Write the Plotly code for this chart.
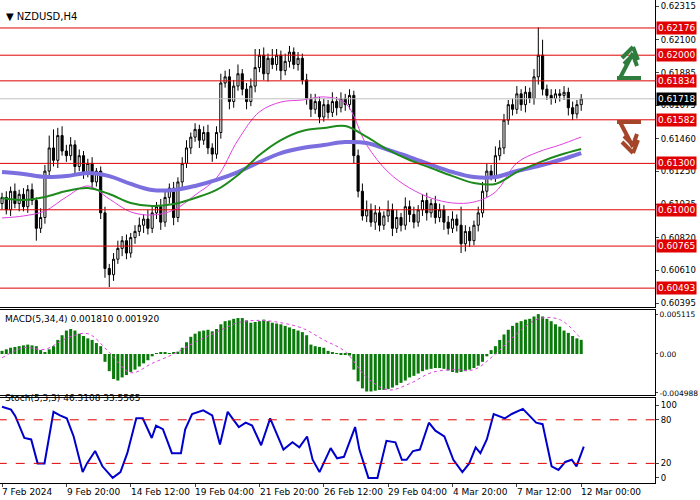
import plotly.graph_objects as go
from plotly.subplots import make_subplots

# candle closes (NZDUSD, H4)
closes = [0.6108, 0.6100, 0.6112, 0.6104, 0.6110, 0.6102, 0.6113, 0.6106, 0.6088, 0.6095,
          0.6125, 0.6140, 0.6132, 0.6148, 0.6138, 0.6135, 0.6142, 0.6128, 0.6135, 0.6124,
          0.6130, 0.6118, 0.6125, 0.6098, 0.6062, 0.6058, 0.6068, 0.6075, 0.6080, 0.6072,
          0.6082, 0.6086, 0.6090, 0.6094, 0.6088, 0.6098, 0.6102, 0.6092, 0.6108, 0.6114,
          0.6095, 0.6118, 0.6130, 0.6140, 0.6147, 0.6152, 0.6145, 0.6150, 0.6140, 0.6136,
          0.6150, 0.6182, 0.6186, 0.6170, 0.6180, 0.6188, 0.6178, 0.6170, 0.6180, 0.6192,
          0.6200, 0.6188, 0.6198, 0.6194, 0.6200, 0.6190, 0.6196, 0.6202, 0.6194, 0.6198,
          0.6184, 0.6172, 0.6165, 0.6170, 0.6160, 0.6168, 0.6163, 0.6170, 0.6166, 0.6172,
          0.6168, 0.6174, 0.6135, 0.6112, 0.6096, 0.6100, 0.6092, 0.6098, 0.6090, 0.6096,
          0.6100, 0.6088, 0.6095, 0.6090, 0.6102, 0.6097, 0.6092, 0.6100, 0.6106, 0.6098,
          0.6104, 0.6095, 0.6100, 0.6092, 0.6088, 0.6094, 0.6090, 0.6078, 0.6086, 0.6080,
          0.6090, 0.6098, 0.6112, 0.6125, 0.6122, 0.6135, 0.6140, 0.6158, 0.6168, 0.6165,
          0.6175, 0.6168, 0.6176, 0.6172, 0.6186, 0.6200, 0.6178, 0.6174, 0.6172, 0.6175,
          0.6174, 0.6176, 0.6166, 0.6162, 0.6168, 0.61718]
first_open = 0.6104
# wick lengths in pips above / below the body
up_pips = [3, 4, 3, 5, 3, 4, 3, 4, 2, 6,
           4, 8, 12, 5, 6, 4, 5, 3, 4, 3,
           3, 4, 2, 3, 4, 3, 4, 5, 3, 4,
           3, 4, 5, 3, 6, 4, 3, 5, 4, 3,
           4, 3, 4, 5, 3, 4, 3, 4, 5, 3,
           4, 6, 4, 5, 4, 6, 3, 4, 5, 12,
           4, 5, 3, 6, 4, 3, 5, 4, 3, 4,
           3, 4, 3, 5, 3, 4, 3, 6, 3, 4,
           3, 4, 3, 4, 5, 6, 4, 5, 4, 3,
           6, 4, 5, 3, 6, 4, 5, 3, 4, 5,
           3, 5, 4, 3, 4, 5, 3, 12, 4, 3,
           3, 4, 6, 5, 4, 6, 5, 4, 3, 4,
           5, 3, 4, 3, 5, 18, 10, 3, 4, 3,
           3, 4, 3, 4, 3, 3]
dn_pips = [4, 3, 4, 3, 5, 3, 4, 3, 8, 3,
           4, 3, 4, 5, 3, 4, 3, 5, 3, 4,
           3, 4, 3, 4, 6, 8, 4, 3, 5, 4,
           3, 4, 3, 5, 4, 3, 4, 5, 3, 4,
           5, 3, 4, 3, 4, 3, 5, 3, 4, 5,
           3, 4, 3, 5, 4, 3, 4, 5, 3, 4,
           3, 4, 5, 3, 4, 6, 3, 4, 3, 4,
           3, 4, 5, 3, 4, 3, 4, 3, 5, 3,
           4, 3, 5, 4, 3, 4, 3, 5, 4, 3,
           4, 5, 3, 4, 3, 5, 4, 3, 4, 5,
           3, 4, 3, 5, 4, 3, 4, 6, 5, 4,
           3, 4, 3, 4, 3, 4, 3, 4, 3, 4,
           3, 4, 5, 3, 4, 5, 4, 3, 4, 3,
           4, 3, 5, 4, 3, 4]

# moving averages sampled every 5 candles
ma_idx = list(range(0, 136, 5))
ma_blue = [0.61244, 0.61231, 0.61212, 0.61218, 0.61238, 0.61218, 0.61167, 0.61128, 0.61128, 0.61154,
           0.61193, 0.61244, 0.61309, 0.61367, 0.61400, 0.61419, 0.61438, 0.61432, 0.61387, 0.61341,
           0.61290, 0.61244, 0.61212, 0.61212, 0.61251, 0.61283, 0.61322, 0.61367]
ma_green = [0.61076, 0.61063, 0.61083, 0.61121, 0.61141, 0.61102, 0.61044, 0.61024, 0.61037, 0.61076,
            0.61128, 0.61225, 0.61354, 0.61451, 0.61510, 0.61529, 0.61542, 0.61471, 0.61387, 0.61322,
            0.61270, 0.61218, 0.61173, 0.61167, 0.61244, 0.61303, 0.61354, 0.61393]
ma_pink = [0.60947, 0.60960, 0.60992, 0.61083, 0.61154, 0.61070, 0.60986, 0.60966, 0.60998, 0.61095,
           0.61206, 0.61451, 0.61633, 0.61697, 0.61710, 0.61730, 0.61691, 0.61419, 0.61244, 0.61141,
           0.61076, 0.61044, 0.61050, 0.61115, 0.61303, 0.61374, 0.61419, 0.61471]

levels = [0.62176, 0.62000, 0.61834, 0.61582, 0.61300, 0.61000, 0.60765, 0.60493]
last_price = 0.61718
price_ticks = [0.62315, 0.62100, 0.61885, 0.61675, 0.61460, 0.61250, 0.61035, 0.60820, 0.60610, 0.60395]

# MACD histogram (x1e-3) per candle and signal line every 5 candles
macd = [0.4, 0.6, 0.8, 0.9, 1.0, 1.1, 1.2, 1.1, 1.0, 0.5,
        0.2, 0.6, 1.0, 1.8, 2.4, 3.0, 3.2, 3.0, 2.6, 2.3,
        2.0, 1.8, 1.4, 1.0, -1.0, -2.2, -3.2, -3.4, -3.0, -2.7,
        -2.3, -2.0, -1.6, -1.2, -0.8, -0.3, 0.1, 0.2, 0.2, 0.1,
        0.2, 0.3, 0.8, 1.5, 2.2, 2.6, 2.9, 3.0, 3.1, 2.9,
        3.2, 3.8, 4.2, 4.3, 4.5, 4.6, 4.6, 4.3, 4.0, 4.1,
        4.2, 4.4, 4.2, 4.0, 3.9, 3.8, 3.6, 3.4, 3.2, 3.0,
        2.8, 2.4, 1.2, 1.0, 0.9, 0.8, 0.4, 0.2, 0.1, -0.1,
        -0.1, -0.2, -2.0, -3.5, -4.4, -4.8, -4.8, -4.7, -4.6, -4.6,
        -4.5, -4.3, -4.0, -3.7, -3.4, -3.0, -2.8, -2.5, -2.2, -2.0,
        -1.9, -1.8, -1.8, -1.9, -2.1, -2.3, -2.4, -2.3, -2.2, -2.0,
        -1.8, -1.5, -1.0, -0.3, 0.5, 1.0, 1.8, 2.5, 3.1, 3.6,
        4.0, 4.2, 4.4, 4.5, 4.8, 5.1, 4.8, 4.5, 4.2, 3.8,
        3.5, 3.0, 2.7, 2.3, 2.0, 1.81]
macd_signal = [-0.5, 0.8, 0.6, 2.0, 2.6, 0.2, -2.4, -1.2, 0.0, 1.5,
               2.8, 4.0, 4.3, 4.0, 3.3, 1.8, 0.3, -3.0, -4.6, -3.8,
               -2.4, -2.0, -2.0, 0.0, 2.6, 4.5, 4.4, 1.92]

# stochastic %K
stoch_x = [0, 2.1, 3.1, 5.2, 6.8, 8.3, 9.9, 12, 13.5, 15.1,
           16.7, 18.8, 19.8, 21.7, 23.4, 25.8, 27.6, 29.2, 31.3, 32.8,
           34.9, 35.9, 37.5, 39.6, 41.7, 42.7, 44.3, 46.9, 49, 50.8,
           52.6, 54.2, 55.2, 56.8, 58.3, 60.4, 62.5, 65.6, 67.7, 69.3,
           71.1, 72.4, 74, 76.6, 78.1, 79.7, 82.3, 83.3, 85.4, 87.5,
           89.6, 91.7, 93.2, 94.3, 95.8, 97.4, 99.5, 101, 103.1, 105.2,
           107.3, 108.9, 110.4, 111.5, 113, 114.6, 117.2, 118.8, 121.4, 124.5,
           126, 128.1, 129.7, 131.3, 132.8, 133.9, 135.6]
stoch_k = [98, 94, 85, 55, 53, 20, 20, 91, 86, 82,
           57, 8, 20, 37, 16, 0, 8, 34, 82, 82,
           55, 72, 67, 34, 34, 67, 88, 93, 86, 46,
           91, 79, 70, 76, 72, 45, 82, 39, 49, 42,
           57, 25, 8, 41, 27, 29, 70, 39, 0, 0,
           51, 49, 25, 25, 37, 39, 76, 65, 57, 25,
           8, 20, 42, 34, 53, 88, 82, 88, 95, 76,
           74, 16, 11, 22, 25, 16, 43]

date_labels = ["7 Feb 2024", "9 Feb 20:00", "14 Feb 12:00", "19 Feb 04:00", "21 Feb 20:00",
               "26 Feb 12:00", "29 Feb 04:00", "4 Mar 20:00", "7 Mar 12:00", "12 Mar 00:00"]
date_idx = [0, 15, 30, 45, 60, 75, 90, 105, 120, 135]

n = len(closes)
idx = list(range(n))
opens = [first_open] + closes[:-1]
highs = [max(o, c) + u * 0.0001 for o, c, u in zip(opens, closes, up_pips)]
lows = [min(o, c) - d * 0.0001 for o, c, d in zip(opens, closes, dn_pips)]

FONT = "DejaVu Sans"
RED = "#e00000"
H = 483.0  # plot area height in px
W = 655.0  # plot area width in px


def py(px):
    return 1 - px / H


def pxp(x):
    return x / W


fig = make_subplots(rows=3, cols=1, shared_xaxes=True)
fig.add_trace(go.Candlestick(x=idx, open=opens, high=highs, low=lows, close=closes,
                             increasing=dict(line=dict(color="black", width=1), fillcolor="white"),
                             decreasing=dict(line=dict(color="black", width=1), fillcolor="black"),
                             whiskerwidth=0), row=1, col=1)
fig.add_trace(go.Scatter(x=ma_idx, y=ma_pink, mode="lines", line=dict(color="#e040e0", width=1, shape="spline")), row=1, col=1)
fig.add_trace(go.Scatter(x=ma_idx, y=ma_blue, mode="lines", line=dict(color="#7b6fe0", width=4, shape="spline")), row=1, col=1)
fig.add_trace(go.Scatter(x=ma_idx, y=ma_green, mode="lines", line=dict(color="#1e8a1e", width=2, shape="spline")), row=1, col=1)

fig.add_trace(go.Bar(x=idx, y=[v / 1000 for v in macd], marker=dict(color="#0a7a0a", line=dict(width=0)), width=0.7), row=2, col=1)
fig.add_trace(go.Scatter(x=ma_idx, y=[v / 1000 for v in macd_signal], mode="lines",
                         line=dict(color="#e040e0", width=1, dash="dot", shape="spline")), row=2, col=1)

fig.add_trace(go.Scatter(x=stoch_x, y=stoch_k, mode="lines", line=dict(color="#0000cc", width=2)), row=3, col=1)

LABEL_FONT = dict(color="white", size=9, family=FONT)
for lv in levels:
    fig.add_shape(type="line", xref="x", x0=-1, x1=160, yref="y", y0=lv, y1=lv, line=dict(color=RED, width=1))
    fig.add_annotation(xref="paper", x=1.002, yref="y", y=lv, text=f"{lv:.5f}", showarrow=False,
                       xanchor="left", bgcolor=RED, font=LABEL_FONT, borderpad=1)
fig.add_shape(type="line", xref="x", x0=-1, x1=160, yref="y", y0=last_price, y1=last_price, line=dict(color="#c0c0c0", width=1))
fig.add_annotation(xref="paper", x=1.002, yref="y", y=last_price, text=f"{last_price:.5f}", showarrow=False,
                   xanchor="left", bgcolor="black", font=LABEL_FONT, borderpad=1)
for lv in (80, 20):
    fig.add_shape(type="line", xref="x", x0=-1, x1=160, yref="y3", y0=lv, y1=lv, line=dict(color=RED, width=1, dash="dash"))

# trend arrows at the right
green_arrow = [((617, 78), (641, 78)), ((620, 78), (633, 53)),
               ((622, 58), (633, 47)), ((633, 47), (638, 60)),
               ((624, 64), (633, 55)), ((633, 55), (637, 66))]
red_arrow = [((617, 122), (641, 122)), ((620, 122), (633, 147)),
             ((622, 142), (633, 153)), ((633, 153), (638, 140)),
             ((624, 136), (633, 145)), ((633, 145), (637, 134))]
for segs, col in ((green_arrow, "#2e7d3e"), (red_arrow, "#a5452a")):
    for (x0, y0), (x1, y1) in segs:
        fig.add_shape(type="line", xref="paper", yref="paper", x0=pxp(x0), x1=pxp(x1), y0=py(y0), y1=py(y1),
                      line=dict(color=col, width=4))

fig.add_annotation(xref="paper", yref="paper", x=pxp(4), y=py(9), text="▼ NZDUSD,H4", showarrow=False,
                   xanchor="left", font=dict(size=10, family=FONT, color="black"))
fig.add_annotation(xref="paper", yref="paper", x=pxp(3), y=py(319), text="MACD(5,34,4) 0.001810 0.001920", showarrow=False,
                   xanchor="left", font=dict(size=9, family=FONT, color="black"))
fig.add_annotation(xref="paper", yref="paper", x=pxp(3), y=py(405), text="Stoch(5,3,3) 46.3108 33.5565", showarrow=False,
                   xanchor="left", font=dict(size=9, family=FONT, color="black"))
# MT4 style: date labels start at their tick
for di, lab in zip(date_idx, date_labels):
    fig.add_annotation(xref="x3", yref="paper", x=di - 0.4, y=0, yshift=-2, text=lab, showarrow=False,
                       xanchor="left", yanchor="top", font=dict(size=9, family=FONT, color="black"))

axis_common = dict(showgrid=False, zeroline=False, showline=True, mirror=True, linecolor="black", linewidth=1,
                   automargin=False, tickfont=dict(size=8.5, family=FONT, color="black"))
fig.update_xaxes(range=[-0.47, 152.2], rangeslider_visible=False, showticklabels=False, **axis_common)
fig.update_xaxes(tickvals=date_idx, ticks="outside", ticklen=3, row=3, col=1)
fig.update_yaxes(side="right", ticks="outside", ticklen=3, **axis_common)
fig.update_yaxes(range=[0.60371, 0.62357], tickvals=price_ticks, tickformat=".5f", row=1, col=1)
fig.update_yaxes(range=[-0.00525, 0.00563], tickvals=[0.005115, 0, -0.004988],
                 ticktext=["0.005115", "0.00", "-0.004988"], tickfont=dict(size=7.5), ticklen=2, row=2, col=1)
fig.update_yaxes(range=[-7, 110], tickvals=[100, 80, 20, 0], row=3, col=1)

fig.update_layout(
    width=700, height=500, showlegend=False, plot_bgcolor="white", paper_bgcolor="white",
    margin=dict(l=0, r=45, t=0, b=17), bargap=0.3,
    yaxis=dict(domain=[py(307), 1]),
    yaxis2=dict(domain=[py(395), py(310)]),
    yaxis3=dict(domain=[0, py(398)]),
)

fig.write_html("out.html", config={"displayModeBar": False},
               post_script="document.body.style.margin='0';")
